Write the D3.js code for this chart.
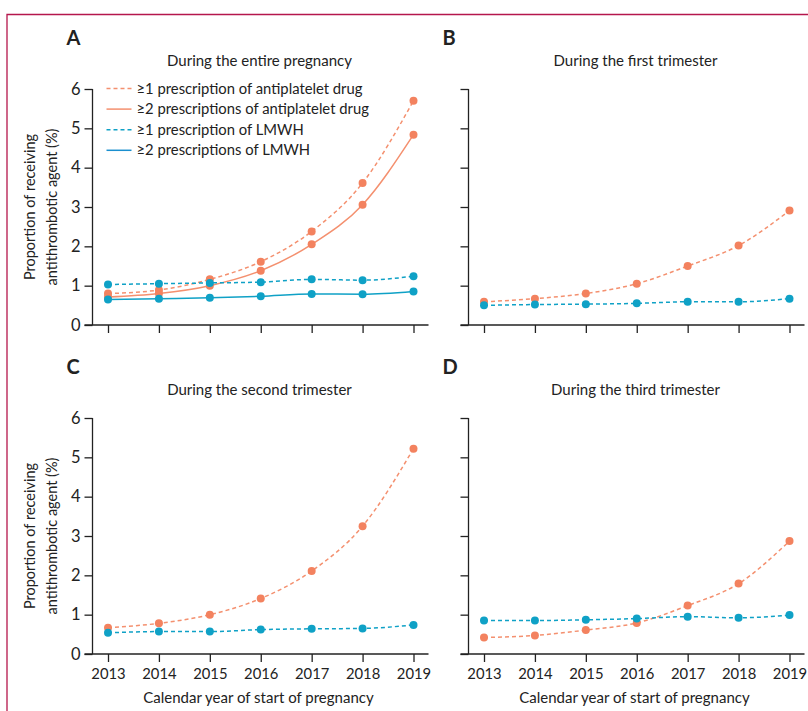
<!DOCTYPE html>
<html>
<head>
<meta charset="utf-8">
<script src="https://cdn.jsdelivr.net/npm/d3@7"></script>
<style>
  body { margin: 0; background: #fff; }
  svg text { font-family: Lato, "Open Sans", sans-serif; fill: #222; }
</style>
</head>
<body>
<script>
// data (% of pregnancies)
let years = [2013, 2014, 2015, 2016, 2017, 2018, 2019];
let yTicks = [0, 1, 2, 3, 4, 5, 6];

let entireAnti1 = [0.80, 0.89, 1.16, 1.61, 2.38, 3.61, 5.70];
let entireAnti2 = [0.71, 0.80, 1.00, 1.38, 2.05, 3.06, 4.84];
let entireLmwh1 = [1.03, 1.05, 1.07, 1.09, 1.16, 1.14, 1.24];
let entireLmwh2 = [0.65, 0.67, 0.69, 0.73, 0.79, 0.78, 0.85];

let firstAnti = [0.59, 0.67, 0.80, 1.05, 1.50, 2.02, 2.91];
let firstLmwh = [0.50, 0.52, 0.53, 0.55, 0.59, 0.59, 0.67];

let secondAnti = [0.67, 0.78, 1.00, 1.41, 2.11, 3.25, 5.22];
let secondLmwh = [0.54, 0.57, 0.57, 0.62, 0.64, 0.65, 0.74];

let thirdAnti = [0.42, 0.47, 0.61, 0.79, 1.23, 1.79, 2.87];
let thirdLmwh = [0.85, 0.85, 0.87, 0.90, 0.95, 0.92, 0.99];

let legendLabels = [
  '≥1 prescription of antiplatelet drug',
  '≥2 prescriptions of antiplatelet drug',
  '≥1 prescription of LMWH',
  '≥2 prescriptions of LMWH'
];

const ORANGE = '#f3825f';
const ORANGE_LINE = '#f4906f';
const BLUE = '#0fa1c6';
const BLUE_DARK = '#1a8fcf';

let panels = [
  { letter: 'A', title: 'During the entire pregnancy', col: 0, row: 0,
    series: [
      { values: entireAnti1, color: ORANGE, dash: true },
      { values: entireAnti2, color: ORANGE, dash: false },
      { values: entireLmwh1, color: BLUE, dash: true },
      { values: entireLmwh2, color: BLUE, dash: false }
    ] },
  { letter: 'B', title: 'During the first trimester', col: 1, row: 0,
    series: [
      { values: firstAnti, color: ORANGE, dash: true },
      { values: firstLmwh, color: BLUE, dash: true }
    ] },
  { letter: 'C', title: 'During the second trimester', col: 0, row: 1,
    series: [
      { values: secondAnti, color: ORANGE, dash: true },
      { values: secondLmwh, color: BLUE, dash: true }
    ] },
  { letter: 'D', title: 'During the third trimester', col: 1, row: 1,
    series: [
      { values: thirdAnti, color: ORANGE, dash: true },
      { values: thirdLmwh, color: BLUE, dash: true }
    ] }
];

let W = 808, H = 711;
let svg = d3.select('body').append('svg')
  .attr('width', W).attr('height', H);

// frame
svg.append('path')
  .attr('d', 'M7,' + H + ' L7,14.5 L' + W + ',14.5')
  .attr('fill', 'none')
  .attr('stroke', '#b5164c')
  .attr('stroke-width', 1.3);

let colX = [92.5, 468.5];
let rowY = [[325, 89], [654, 418]];

panels.forEach((p) => {
  let ax = colX[p.col];
  let yr = rowY[p.row];

  let x = d3.scaleLinear().domain([2013, 2019]).range([ax + 15.5, ax + 321]);
  let y = d3.scaleLinear().domain([0, 6]).range(yr);

  let g = svg.append('g');

  // letter + title
  g.append('text')
    .attr('x', ax - 26).attr('y', yr[1] - 44.5)
    .style('font-weight', 'bold').style('font-size', '20px')
    .text(p.letter);
  g.append('text')
    .attr('x', ax + 167).attr('y', yr[1] - 23)
    .attr('text-anchor', 'middle')
    .style('font-size', '15px')
    .text(p.title);

  // y axis
  let yAxis = d3.axisLeft(y).tickValues(yTicks).tickSize(8).tickPadding(4)
    .tickFormat(p.col === 0 ? d3.format('d') : '');
  let ya = g.append('g').attr('transform', `translate(${ax},0)`).call(yAxis);
  ya.select('.domain').attr('d', `M0,${yr[0]}V${yr[1]}`);

  // x axis
  let xAxis = d3.axisBottom(x).tickValues(years).tickSize(8).tickPadding(6)
    .tickFormat(p.row === 1 ? d3.format('d') : '');
  let xa = g.append('g').attr('transform', `translate(0,${yr[0]})`).call(xAxis);
  xa.select('.domain').attr('d', `M${ax - 8},0H${ax + 336}`);

  [ya, xa].forEach((a) => {
    a.selectAll('.domain, .tick line').attr('stroke', '#222').attr('stroke-width', 1.3);
    a.selectAll('text').attr('fill', '#222')
      .style('font-family', 'Lato, sans-serif');
  });
  ya.selectAll('text').style('font-size', '16.5px');
  xa.selectAll('text').style('font-size', '14.8px');

  if (p.row === 1) {
    g.append('text')
      .attr('x', ax + 166).attr('y', yr[0] + 49)
      .attr('text-anchor', 'middle').style('font-size', '15px')
      .text('Calendar year of start of pregnancy');
  }

  if (p.col === 0) {
    let cy = (yr[0] + yr[1]) / 2;
    ['Proportion of receiving', 'antithrombotic agent (%)'].forEach((t, i) => {
      g.append('text')
        .attr('transform', `translate(${35 + i * 21.5},${cy}) rotate(-90)`)
        .attr('text-anchor', 'middle').style('font-size', '14.5px')
        .text(t);
    });
  }

  let line = d3.line()
    .x((d, i) => x(years[i]))
    .y((d) => y(d))
    .curve(d3.curveMonotoneX);

  p.series.forEach((s) => {
    g.append('path')
      .attr('d', line(s.values))
      .attr('fill', 'none')
      .attr('stroke', s.color === ORANGE ? ORANGE_LINE : s.color)
      .attr('stroke-width', 1.5)
      .attr('stroke-dasharray', s.dash ? '4,3' : null);
  });
  p.series.forEach((s) => {
    g.selectAll(null).data(s.values).enter()
      .append('circle')
      .attr('cx', (d, i) => x(years[i]))
      .attr('cy', (d) => y(d))
      .attr('r', 4)
      .attr('fill', s.color);
  });

  // legend only in panel A
  if (p.letter === 'A') {
    let leg = g.append('g');
    let legStyles = [
      { color: ORANGE_LINE, dash: true },
      { color: ORANGE_LINE, dash: false },
      { color: BLUE, dash: true },
      { color: BLUE_DARK, dash: false }
    ];
    legendLabels.forEach((t, i) => {
      let ly = 88.5 + i * 20.6;
      leg.append('line')
        .attr('x1', ax + 14).attr('x2', ax + 39)
        .attr('y1', ly).attr('y2', ly)
        .attr('stroke', legStyles[i].color)
        .attr('stroke-width', 1.5)
        .attr('stroke-dasharray', legStyles[i].dash ? '4,3' : null);
      leg.append('text')
        .attr('x', ax + 44).attr('y', ly)
        .attr('dy', '0.35em')
        .style('font-size', '14.8px')
        .text(t);
    });
  }
});
</script>
</body>
</html>
